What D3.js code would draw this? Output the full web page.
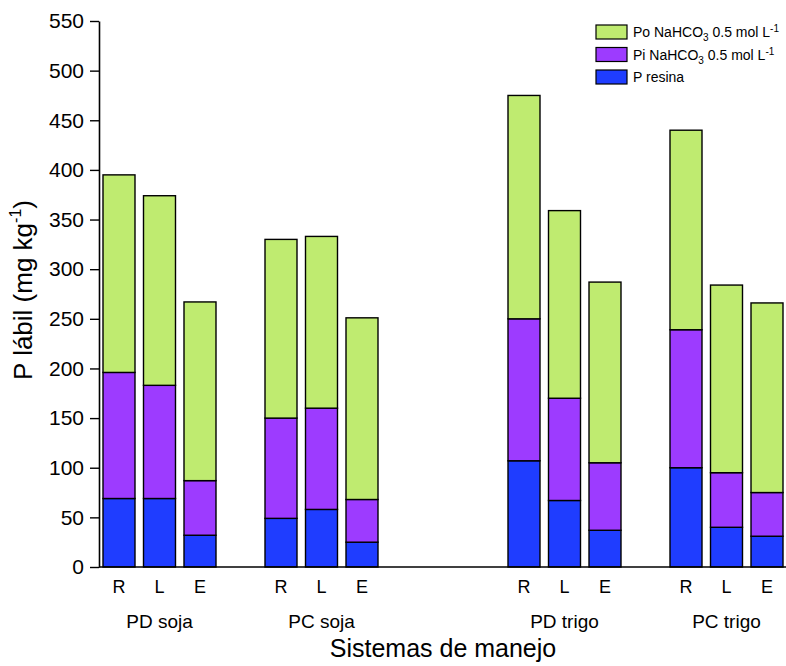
<!DOCTYPE html>
<html>
<head>
<meta charset="utf-8">
<script src="https://cdn.jsdelivr.net/npm/d3@7"></script>
<style>
  html, body { margin: 0; padding: 0; background: #fff; }
  svg { display: block; font-family: "Liberation Sans", Arial, sans-serif; }
</style>
</head>
<body>
<svg id="chart" width="786" height="666"></svg>
<script>
// ---- data ----
const groups = ["PD soja", "PC soja", "PD trigo", "PC trigo"];
const treatments = ["R", "L", "E"];
const pResina  = [69, 69, 32,   49, 58, 25,   107, 67, 37,   100, 40, 31];
const piNaHCO3 = [127, 114, 55, 101, 102, 43, 143, 103, 68,  139, 55, 44];
const poNaHCO3 = [199, 191, 180, 180, 173, 183, 225, 189, 182, 201, 189, 191];
const yTickValues = [0, 50, 100, 150, 200, 250, 300, 350, 400, 450, 500, 550];
const seriesKeys = ["resina", "pi", "po"];
const seriesColors = ["#1f3dff", "#9d3bff", "#bfeb70"];

// ---- layout ----
const W = 786, H = 666;
const plotLeft = 99, plotBottom = 567, plotTop = 21;
const groupGapSlots = [0, 1, 3, 1]; // empty slots before each group

const rows = [];
let slot = 0;
groups.forEach((g, gi) => {
  slot += groupGapSlots[gi];
  treatments.forEach((t, ti) => {
    const i = gi * treatments.length + ti;
    rows.push({ slot: "s" + slot, group: g, trt: t,
      resina: pResina[i], pi: piNaHCO3[i], po: poNaHCO3[i] });
    slot += 1;
  });
});
const nSlots = slot;

const svg = d3.select("#chart");

const x = d3.scaleBand()
  .domain(d3.range(nSlots).map(i => "s" + i))
  .range([103, 783])
  .paddingInner(0.21)
  .paddingOuter(0);

const y = d3.scaleLinear().domain([0, 550]).range([plotBottom, plotTop]);

const stack = d3.stack().keys(seriesKeys)(rows);

// bars
svg.append("g").selectAll("g")
  .data(stack)
  .join("g")
  .attr("fill", (d, i) => seriesColors[i])
  .selectAll("rect")
  .data(d => d)
  .join("rect")
  .attr("x", d => x(d.data.slot))
  .attr("width", x.bandwidth())
  .attr("y", d => y(d[1]))
  .attr("height", d => y(d[0]) - y(d[1]))
  .attr("stroke", "#000")
  .attr("stroke-width", 1.4);

// y axis
const yAxis = d3.axisLeft(y).tickValues(yTickValues).tickSize(9).tickPadding(6).tickSizeOuter(0);
const gy = svg.append("g").attr("transform", `translate(${plotLeft},0)`).call(yAxis);
gy.select(".domain").attr("stroke", "#000").attr("stroke-width", 1.6);
gy.selectAll(".tick line").attr("stroke", "#000").attr("stroke-width", 1.4);
gy.selectAll(".tick text").attr("font-size", 21).attr("fill", "#000")
  .attr("font-family", "Liberation Sans, Arial, sans-serif");

// x baseline
svg.append("line")
  .attr("x1", plotLeft).attr("x2", W)
  .attr("y1", plotBottom).attr("y2", plotBottom)
  .attr("stroke", "#000").attr("stroke-width", 1.6);

// treatment labels
svg.append("g").selectAll("text")
  .data(rows)
  .join("text")
  .attr("x", d => x(d.slot) + x.bandwidth() / 2)
  .attr("y", 593)
  .attr("text-anchor", "middle")
  .attr("font-size", 18)
  .text(d => d.trt);

// group labels (centered on middle bar)
svg.append("g").selectAll("text")
  .data(groups)
  .join("text")
  .attr("x", (g, gi) => {
    const r = rows[gi * treatments.length + 1];
    return x(r.slot) + x.bandwidth() / 2;
  })
  .attr("y", 628)
  .attr("text-anchor", "middle")
  .attr("font-size", 19)
  .text(g => g);

// x title
svg.append("text")
  .attr("x", 443).attr("y", 657)
  .attr("text-anchor", "middle")
  .attr("font-size", 25)
  .text("Sistemas de manejo");

// y title
const yt = svg.append("text")
  .attr("transform", "translate(32,290) rotate(-90)")
  .attr("text-anchor", "middle")
  .attr("font-size", 26);
yt.append("tspan").text("P lábil (mg kg");
yt.append("tspan").attr("font-size", 16).attr("dy", -11).text("-1");
yt.append("tspan").attr("dy", 11).text(")");

// legend
const legendItems = [
  { color: seriesColors[2], parts: [["Po NaHCO", 0], ["3", 1], [" 0.5 mol L", 0], ["-1", -1]] },
  { color: seriesColors[1], parts: [["Pi NaHCO", 0], ["3", 1], [" 0.5 mol L", 0], ["-1", -1]] },
  { color: seriesColors[0], parts: [["P resina", 0]] }
];
const lg = svg.append("g");
legendItems.forEach((it, i) => {
  const yy = 25 + i * 22.5;
  lg.append("rect")
    .attr("x", 596).attr("y", yy)
    .attr("width", 31).attr("height", 14)
    .attr("fill", it.color).attr("stroke", "#000").attr("stroke-width", 1.2);
  const t = lg.append("text").attr("x", 633).attr("y", yy + 12).attr("font-size", 14);
  let prev = 0;
  it.parts.forEach(([s, k]) => {
    const off = k === 1 ? 4 : (k === -1 ? -5 : 0);
    t.append("tspan")
      .attr("dy", off - prev)
      .attr("font-size", k === 0 ? 14 : 10)
      .text(s);
    prev = off;
  });
});
</script>
</body>
</html>
